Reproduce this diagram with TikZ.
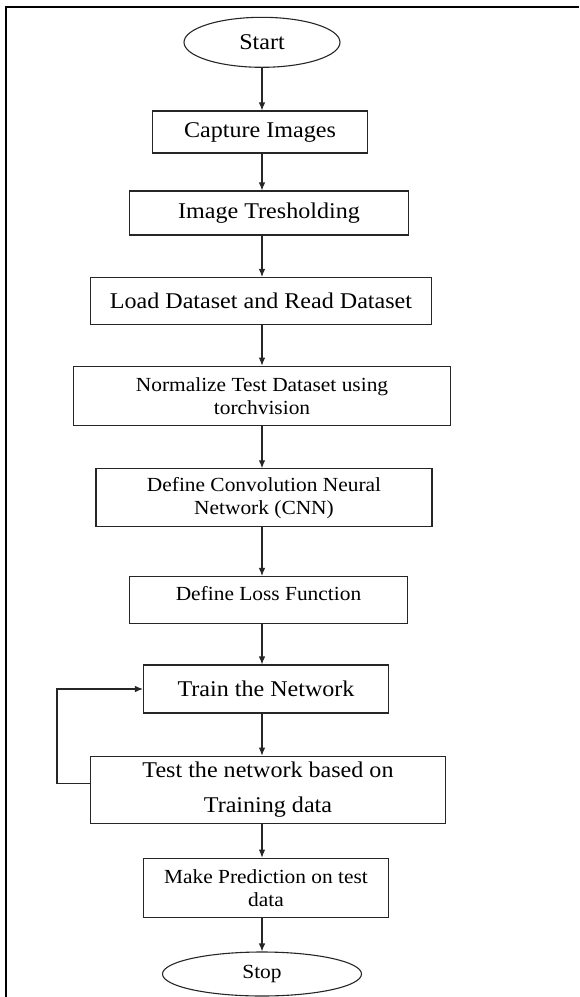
\documentclass[tikz,border=0pt]{standalone}
\usepackage{fontspec}
\setmainfont[FakeStretch=1.07]{Liberation Serif}
\usepackage{tikz}
\usetikzlibrary{
        arrows.meta,
        positioning,
        shapes.geometric
    }
\tikzset{>={Latex[length=8pt,width=6.5pt]},shorten >=0pt}
\tikzset{
        process/.style={rectangle,draw=black!85,line width=1.1pt,inner sep=0pt,align=center},
        terminal/.style={ellipse,draw=black!85,line width=1.1pt,inner sep=0pt},
        bigtext/.style={font=\fontsize{22.5}{27}\selectfont},
        smalltext/.style={font=\fontsize{20}{23}\selectfont},
        flow/.style={->,draw=black!85,line width=1.1pt}
    }

\begin{document}
\begin{tikzpicture}[x=1pt,y=-1pt]
        \useasboundingbox (0,0) rectangle (579,997);
        % frame
        \draw[line width=2pt] (5.5,997) -- (5.5,6.5) -- (579,6.5);

        \node[terminal,bigtext,minimum width=156pt,minimum height=50pt] (start) at (262,42.3) {Start};
        \node[process,bigtext,minimum width=215pt,minimum height=42pt] (capture) at (260,132) {Capture Images};
        \node[process,bigtext,minimum width=279pt,minimum height=44pt] (thresh) at (269,213) {Image Tresholding};
        \node[process,bigtext,minimum width=341pt,minimum height=47pt] (load) at (261,301) {Load Dataset and Read Dataset};
        \node[process,smalltext,minimum width=377pt,minimum height=59pt] (norm) at (262,395.7) {Normalize Test Dataset using\\torchvision};
        \node[process,smalltext,minimum width=336pt,minimum height=58pt] (cnn) at (264,497.8) {Define Convolution Neural\\Network (CNN)};
        \node[process,smalltext,minimum width=278pt,minimum height=47pt,text depth=14pt] (loss) at (268.5,600) {Define Loss Function};
        \node[process,bigtext,minimum width=245pt,minimum height=48pt] (train) at (266,689) {Train the Network};
        \node[process,font=\fontsize{22.5}{35}\selectfont,minimum width=355pt,minimum height=67pt] (test) at (268,789.7) {Test the network based on\\Training data};
        \node[process,smalltext,minimum width=245pt,minimum height=59pt] (predict) at (266,887.7) {Make Prediction on test\\data};
        \node[terminal,smalltext,minimum width=199pt,minimum height=44pt] (stop) at (262,974) {Stop};

        \coordinate (loop) at (57,0);

        \foreach \a/\b in {start/capture,capture/thresh,thresh/load,load/norm,norm/cnn,cnn/loss,loss/train,train/test,test/predict,predict/stop}
            \draw[flow] (start |- \a.south) -- (start |- \b.north);

        % feedback from testing to training
        \draw[flow] ([yshift=6.5pt]test.west) -- ([yshift=6.5pt]test.west -| loop) |- (train.west);
\end{tikzpicture}
\end{document}
